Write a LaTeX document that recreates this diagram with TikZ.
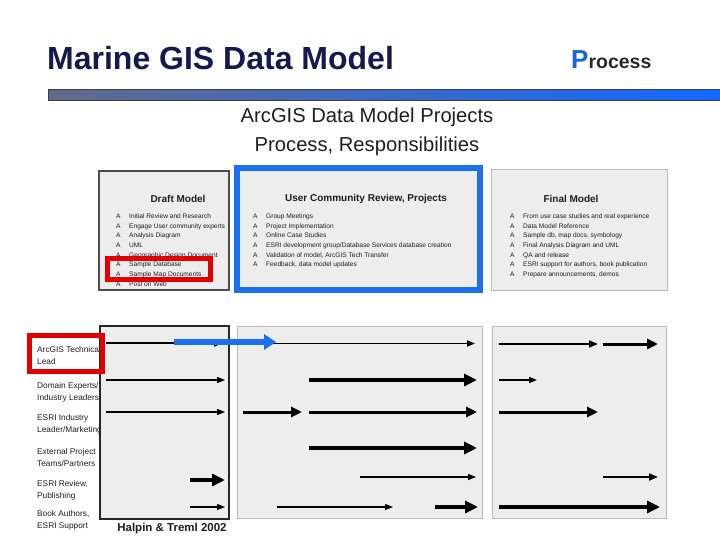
\documentclass[tikz,border=0pt]{standalone}
\usepackage{fontspec}
\setmainfont{Liberation Sans}
\usepackage{tikz}
\usepackage{xcolor}
\usetikzlibrary{arrows.meta}

\definecolor{titlenavy}{RGB}{18,26,78}
\definecolor{procblue}{RGB}{22,100,225}
\definecolor{procgray}{RGB}{40,40,40}
\definecolor{barleft}{RGB}{98,106,138}
\definecolor{barright}{RGB}{18,104,255}
\definecolor{panelgray}{RGB}{237,237,237}
\definecolor{panelline}{RGB}{185,185,185}
\definecolor{hiblue}{RGB}{26,112,238}
\definecolor{hired}{RGB}{228,0,0}
\definecolor{inkgray}{RGB}{30,30,30}

\newcommand{\itemmark}{\makebox[13pt][l]{A}}

\tikzset{
  panel/.style={fill=panelgray, draw=panelline, line width=1pt},
  hd/.style={inner sep=0, text=inkgray, font=\bfseries\fontsize{10}{10}\selectfont},
  itemlist/.style={anchor=north west, align=left, inner sep=0, text=inkgray, font=\fontsize{6.6}{9.7}\selectfont},
  role/.style={anchor=north west, align=left, inner sep=0, text=inkgray, font=\fontsize{8.3}{12}\selectfont},
  arrA/.style={line width=1.1pt, -{Triangle[length=8pt, width=6pt]}},
  arrB/.style={line width=2pt, -{Triangle[length=9pt, width=7pt]}},
  arrC/.style={line width=3pt, -{Triangle[length=11pt, width=10pt]}},
  arrD/.style={line width=4.5pt, -{Triangle[length=13pt, width=12pt]}},
  hibox/.style={draw=hired, line width=5pt}
}

\begin{document}
\begin{tikzpicture}[x=1pt, y=-1pt]
  \useasboundingbox (0,0) rectangle (720,540);

  % header
  \node (title) [anchor=west, inner sep=0, text=titlenavy, font=\bfseries\fontsize{32}{32}\selectfont] at (47,58) {Marine GIS Data Model};
  \node (proc) [anchor=base west, inner sep=0, font=\bfseries] at (571,69) {{\color{procblue}\fontsize{26}{26}\selectfont P}{\color{procgray}\fontsize{19.5}{19.5}\selectfont rocess}};
  \shade[left color=barleft, right color=barright] (48,90) rectangle (720,101);
  \draw[line width=1pt, draw=black!75] (720,90) -- (48,90) -- (48,101) -- (720,101);

  \node (subtitle) [align=center, inner sep=0, text=inkgray, font=\fontsize{20.2}{29}\selectfont] at (367,132) {ArcGIS Data Model Projects\\Process, Responsibilities};

  % upper panels
  \draw[panel, draw=black!70, line width=1.5pt] (99,171) rectangle (229,290);
  \draw[panel, draw=hiblue, line width=6pt] (237,168) rectangle (480,290);
  \draw[panel] (491,170) rectangle (667,290);

  \node (drafthd) [hd] at (178,199) {Draft Model};
  \node (userhd) [hd] at (366,199) {User Community Review, Projects};
  \node (finalhd) [hd] at (571,199) {Final Model};

  \node (draftlist) [itemlist] at (116,213.5) {\itemmark Initial Review and Research\\
    \itemmark Engage User community experts\\
    \itemmark Analysis Diagram\\
    \itemmark UML\\
    \itemmark Geographic Design Document\\
    \itemmark Sample Database\\
    \itemmark Sample Map Documents\\
    \itemmark Post on Web};
  \node (userlist) [itemlist] at (253,213.5) {\itemmark Group Meetings\\
    \itemmark Project Implementation\\
    \itemmark Online Case Studies\\
    \itemmark ESRI development group/Database Services database creation\\
    \itemmark Validation of model, ArcGIS Tech Transfer\\
    \itemmark Feedback, data model updates};
  \node (finallist) [itemlist] at (510,213.5) {\itemmark From use case studies and real experience\\
    \itemmark Data Model Reference\\
    \itemmark Sample db, map docs, symbology\\
    \itemmark Final Analysis Diagram and UML\\
    \itemmark QA and release\\
    \itemmark ESRI support for authors, book publication\\
    \itemmark Prepare announcements, demos};

  \draw[hibox] (107.5,258) rectangle (210.5,279.5);

  % roles
  \node (techlead) [role] at (37,346) {ArcGIS Technical\\Lead};
  \node (domain) [role] at (37,382) {Domain Experts/\\Industry Leaders};
  \node (industry) [role] at (37,414) {ESRI Industry\\Leader/Marketing};
  \node (external) [role] at (37,448) {External Project\\Teams/Partners};
  \node (review) [role] at (37,480) {ESRI Review,\\Publishing};
  \node (authors) [role] at (37,510) {Book Authors,\\ESRI Support};

  % lower panels
  \draw[panel, draw=black!85, line width=1.5pt] (100,326) rectangle (229,519);
  \draw[panel] (237,326) rectangle (482,518);
  \draw[panel] (492,326) rectangle (666,518);

  \node (credit) [inner sep=0, text=inkgray, font=\bfseries\fontsize{11.5}{12}\selectfont] at (172,529) {Halpin \& Treml 2002};

  \draw
  (106,343) edge[arrB] (223,343)
  (106,380) edge[arrA] (225,380)
  (106,412) edge[arrA] (225,412)
  (190,480) edge[arrD] (225,480)
  (190,507) edge[arrA] (225,507)

  (270,343.5) edge[arrA, line width=1.5pt] (475,343.5)
  (309,380) edge[arrD] (477,380)
  (243,412) edge[arrC] (302,412)
  (309,412) edge[arrC] (477,412)
  (309,448) edge[arrD] (477,448)
  (360,477) edge[arrA] (476,477)
  (277,507) edge[arrA] (393,507)
  (435,507) edge[arrD] (478,507)

  (499,344) edge[arrB] (598,344)
  (603,344) edge[arrC] (658,344)
  (499,380) edge[arrA, line width=1.5pt] (537,380)
  (499,412) edge[arrC] (598,412)
  (603,477) edge[arrB] (658,477)
  (499,507) edge[arrD] (660,507);

  \draw[hiblue, line width=5.5pt, -{Triangle[length=12pt, width=15pt]}] (174,342) -- (276,342);
  \draw[hibox] (29.5,335.5) rectangle (102.5,371.5);
\end{tikzpicture}
\end{document}
